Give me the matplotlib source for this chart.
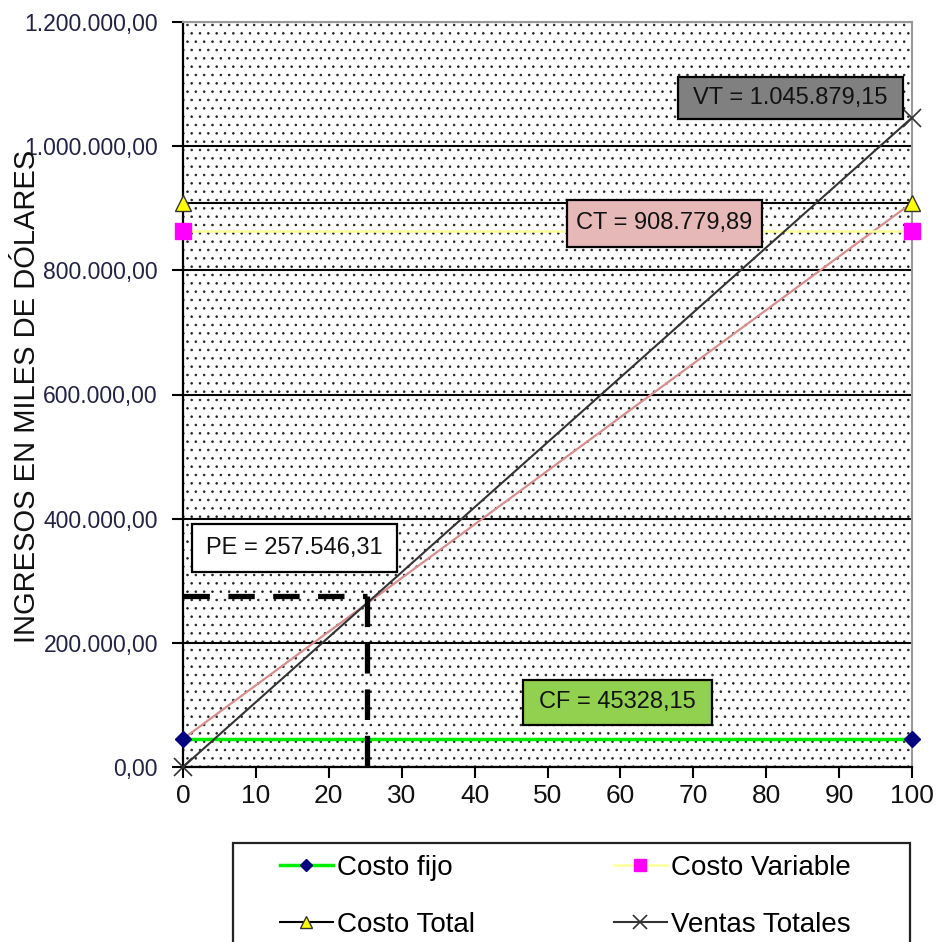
import matplotlib
matplotlib.use('Agg')
from matplotlib import pyplot as plt
from matplotlib.patches import Rectangle
from matplotlib.ticker import FuncFormatter, MultipleLocator

# datos del punto de equilibrio
unidades = [0, 100]
costo_fijo = [45328.15, 45328.15]
costo_variable = [863451.74, 863451.74]
costo_total = [908779.89, 908779.89]
ventas_totales = [0, 1045879.15]
costo_total_recta = [45328.15, 908779.89]
pe_x = 25.3
pe_y = 275000

plt.rcParams['font.family'] = ['Liberation Sans', 'DejaVu Sans']
plt.rcParams['hatch.linewidth'] = 0.6


def formato_miles(v, pos):
    s = f'{v:,.2f}'
    return s.replace(',', 'X').replace('.', ',').replace('X', '.')


fig = plt.figure(figsize=(9.39, 9.42), dpi=100)
ax = fig.add_axes([183 / 939, 1 - 767 / 942, 729 / 939, 745 / 942])

# fondo punteado
ax.add_patch(Rectangle((0, 0), 1, 1, transform=ax.transAxes, facecolor='white',
                       edgecolor='#222222', linewidth=0, hatch='..', zorder=0))

ax.set_xlim(0, 100)
ax.set_ylim(0, 1200000)
ax.xaxis.set_major_locator(MultipleLocator(10))
ax.yaxis.set_major_locator(MultipleLocator(200000))
ax.yaxis.set_major_formatter(FuncFormatter(formato_miles))
ax.grid(axis='y', color='black', linewidth=1.5, zorder=1)
ax.set_axisbelow(True)
ax.tick_params(axis='y', labelsize=16.5, length=8, width=1.5, pad=10, labelcolor='#222244')
ax.tick_params(axis='x', labelsize=19, length=8, width=1.5, pad=4, labelcolor='#111111')
for lado in ['left', 'bottom']:
    ax.spines[lado].set_linewidth(1.6)
for lado in ['top', 'right']:
    ax.spines[lado].set_color('#999999')
    ax.spines[lado].set_linewidth(1.5)

ax.set_ylabel('INGRESOS EN MILES DE DÓLARES', fontsize=21, color='#111111')
ax.yaxis.set_label_coords(-0.195, 0.498)

# series
ax.plot(unidades, costo_total_recta, color='#d98e8e', linewidth=1.6, zorder=3)
l_cf, = ax.plot(unidades, costo_fijo, color='#00ee00', linewidth=2.5, marker='D',
                markersize=8, markerfacecolor='#000080', markeredgecolor='#000080',
                clip_on=False, zorder=4, label='Costo fijo')
l_cv, = ax.plot(unidades, costo_variable, color='#ffff99', linewidth=1.8, marker='s',
                markersize=12, markerfacecolor='#ff00ff', markeredgecolor='#ff00ff',
                clip_on=False, zorder=4, label='Costo Variable')
l_ct, = ax.plot(unidades, costo_total, color='black', linewidth=1.5, marker='^',
                markersize=11, markerfacecolor='#ffff00', markeredgecolor='#333333',
                clip_on=False, zorder=4, label='Costo Total')
l_vt, = ax.plot(unidades, ventas_totales, color='#333333', linewidth=1.5, marker='x',
                markersize=13, markeredgewidth=1.2, markeredgecolor='#333333',
                clip_on=False, zorder=4, label='Ventas Totales')

# punto de equilibrio (lineas discontinuas)
ax.plot([0, pe_x], [pe_y, pe_y], color='black', linewidth=3.8, linestyle=(0, (5, 3.5)),
        dash_capstyle='butt', zorder=5)
ax.plot([pe_x, pe_x], [pe_y, 0], color='black', linewidth=3.8, linestyle=(0, (5.8, 3)),
        dash_capstyle='butt', zorder=5)


def caja(x0, x1, y0, y1, texto, fondo):
    ax.add_patch(Rectangle((x0, y0), x1 - x0, y1 - y0, facecolor=fondo,
                           edgecolor='black', linewidth=1.6, zorder=6))
    ax.text((x0 + x1) / 2, (y0 + y1) / 2, texto, ha='center', va='center',
            fontsize=17, color='#111111', zorder=7)


caja(67.9, 98.8, 1043800, 1111500, 'VT = 1.045.879,15', '#808080')
caja(52.7, 79.4, 837600, 913300, 'CT = 908.779,89', '#e6b8b7')
caja(1.2, 29.4, 314100, 391400, 'PE = 257.546,31', 'white')
caja(46.6, 72.6, 67700, 140100, 'CF = 45328,15', '#92d050')

# leyenda
fig.add_artist(Rectangle((233 / 939, -0.02), (910 - 233) / 939, 1 - 843 / 942 + 0.02,
                         transform=fig.transFigure, fill=False, edgecolor='#222222',
                         linewidth=1.6))
fig.legend(handles=[l_cf, l_ct, l_cv, l_vt], loc='upper left',
           bbox_to_anchor=(280 / 939, 1 - 855 / 942), ncol=2, frameon=False,
           fontsize=20, borderpad=0, borderaxespad=0, handlelength=1.9,
           handletextpad=0.15, columnspacing=5.0, labelspacing=1.1, markerscale=0.75)

plt.savefig('out.png', dpi=100)
plt.close()
